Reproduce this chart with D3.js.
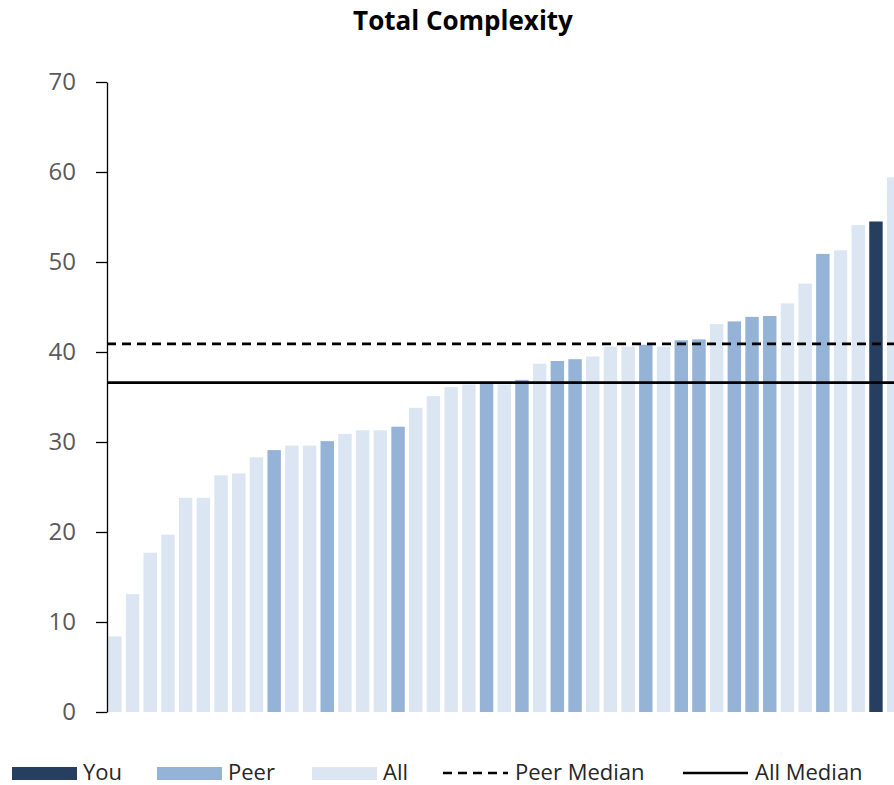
<!DOCTYPE html>
<html>
<head>
<meta charset="utf-8">
<script src="https://cdn.jsdelivr.net/npm/d3@7"></script>
<style>
  html, body { margin: 0; padding: 0; background: #fff; }
  svg { display: block; font-family: "Open Sans", "Noto Sans", sans-serif; }
</style>
</head>
<body>
<svg id="chart" width="894" height="785"></svg>
<script>
// ---- data ----
const categories = d3.range(1, 46).map(i => "C" + i);
const values = [
  8.4, 13.1, 17.7, 19.7, 23.8, 23.8, 26.3, 26.5, 28.3, 29.1,
  29.6, 29.6, 30.1, 30.9, 31.3, 31.3, 31.7, 33.8, 35.1, 36.1,
  36.4, 36.5, 36.4, 36.9, 38.7, 39.0, 39.2, 39.5, 40.6, 40.6,
  40.8, 40.6, 41.3, 41.4, 43.1, 43.4, 43.9, 44.0, 45.4, 47.6,
  50.9, 51.3, 54.1, 54.5, 59.4
];
const groups = [
  "All","All","All","All","All","All","All","All","All","Peer",
  "All","All","Peer","All","All","All","Peer","All","All","All",
  "All","Peer","All","Peer","All","Peer","Peer","All","All","All",
  "Peer","All","Peer","Peer","All","Peer","Peer","Peer","All","All",
  "Peer","All","All","You","All"
];
const yTicks = [0, 10, 20, 30, 40, 50, 60, 70];
const peerMedian = 40.9;
const allMedian = 36.6;
const legendLabels = ["You", "Peer", "All", "Peer Median", "All Median"];
const title = "Total Complexity";

// ---- styles ----
const colors = { You: "#263f60", Peer: "#95b3d7", All: "#dce6f2" };

const svg = d3.select("#chart");

const x = d3.scaleBand()
  .domain(categories)
  .range([106, 106 + 45 * 17.7])
  .paddingInner(0.24)
  .paddingOuter(0.12);

const y = d3.scaleLinear().domain([0, 70]).range([712, 82]);

// title
svg.append("text")
  .attr("x", 463).attr("y", 30)
  .attr("text-anchor", "middle")
  .attr("font-size", 26).attr("font-weight", "bold")
  .attr("fill", "#000")
  .text(title);

// bars
svg.append("g").selectAll("rect")
  .data(values)
  .join("rect")
  .attr("x", (d, i) => x(categories[i]))
  .attr("width", x.bandwidth())
  .attr("y", d => y(d))
  .attr("height", d => y(0) - y(d))
  .attr("fill", (d, i) => colors[groups[i]]);

// y axis
const yAxis = svg.append("g")
  .attr("transform", "translate(107,0)")
  .call(d3.axisLeft(y).tickValues(yTicks).tickSize(11).tickPadding(20).tickSizeOuter(0));
yAxis.select(".domain").attr("stroke", "#000").attr("stroke-width", 1.3);
yAxis.selectAll(".tick line").attr("stroke", "#000").attr("stroke-width", 1.3);
yAxis.selectAll(".tick text")
  .attr("font-size", 24).attr("fill", "#595959")
  .attr("font-family", "'Open Sans', sans-serif");

// median lines
svg.append("line")
  .attr("x1", 107).attr("x2", 894)
  .attr("y1", y(peerMedian)).attr("y2", y(peerMedian))
  .attr("stroke", "#000").attr("stroke-width", 2.6)
  .attr("stroke-dasharray", "9,6");
svg.append("line")
  .attr("x1", 107).attr("x2", 894)
  .attr("y1", y(allMedian)).attr("y2", y(allMedian))
  .attr("stroke", "#000").attr("stroke-width", 2.6);

// legend
const lg = svg.append("g").attr("font-size", 22).attr("fill", "#262626");
const swatchX = [12, 157, 312];
["You", "Peer", "All"].forEach((k, i) => {
  lg.append("rect").attr("x", swatchX[i]).attr("y", 767)
    .attr("width", 65).attr("height", 13).attr("fill", colors[k]);
  lg.append("text").attr("x", swatchX[i] + 71).attr("y", 780)
    .text(legendLabels[i]);
});
lg.append("line").attr("x1", 443).attr("x2", 508).attr("y1", 773).attr("y2", 773)
  .attr("stroke", "#000").attr("stroke-width", 2.6).attr("stroke-dasharray", "9,6");
lg.append("text").attr("x", 515).attr("y", 780).text(legendLabels[3]);
lg.append("line").attr("x1", 683).attr("x2", 748).attr("y1", 773).attr("y2", 773)
  .attr("stroke", "#000").attr("stroke-width", 2.6);
lg.append("text").attr("x", 755).attr("y", 780).text(legendLabels[4]);
</script>
</body>
</html>
